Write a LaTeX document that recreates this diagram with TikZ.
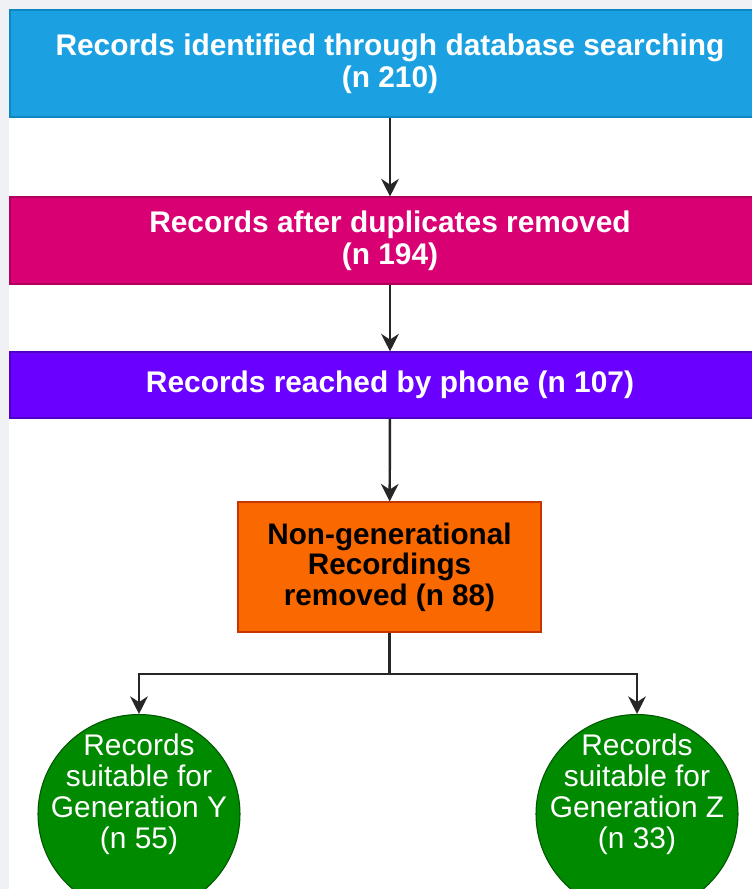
\documentclass[tikz,border=0pt]{standalone}
\usepackage{fontspec}
\setmainfont{Liberation Sans}
\usetikzlibrary{shapes.geometric, arrows.meta, positioning}

\definecolor{bgpanel}{HTML}{EFF1F4}
\definecolor{dbblue}{HTML}{1BA1E2}
\definecolor{dbblueline}{HTML}{0E86C0}
\definecolor{dupmag}{HTML}{D80073}
\definecolor{dupmagline}{HTML}{B0005E}
\definecolor{phviolet}{HTML}{6A00FF}
\definecolor{phvioletline}{HTML}{4E00C8}
\definecolor{ngorange}{HTML}{FA6800}
\definecolor{ngorangeline}{HTML}{C73500}
\definecolor{gengreen}{HTML}{008A00}
\definecolor{gengreenline}{HTML}{005700}

\begin{document}
\begin{tikzpicture}[
    stage/.style={
        rectangle, draw, line width=0.6pt,
        minimum width=15.2cm,
        text=white, align=center,
        font=\fontsize{17}{18.2}\selectfont\bfseries
    },
    removed/.style={
        rectangle, draw=ngorangeline, fill=ngorange, line width=0.6pt,
        minimum width=6.06cm, minimum height=2.6cm,
        text=black, align=center,
        font=\fontsize{16.9}{17.4}\selectfont\bfseries
    },
    result/.style={
        ellipse, draw=gengreenline, fill=gengreen, line width=0.6pt,
        minimum width=4.04cm, minimum height=3.98cm,
        inner xsep=-0.5cm, inner ysep=-0.5cm, text depth=0.9cm,
        text=white, align=center,
        font=\fontsize{17}{17.6}\selectfont
    },
    arrow/.style={-{Stealth[length=10pt, width=10pt]}, line width=1.4pt, black!85},
    link/.style={line width=1.4pt, black!85},
]

% Fondo
\useasboundingbox (0,0) rectangle (15.04,-17.78);
\fill[bgpanel] (0,0) rectangle (15.04,-17.78);
\fill[white] (0.17,-0.2) rectangle (15.04,-17.78);

% Fasi
\node[stage, fill=dbblue, draw=dbblueline, minimum height=2.14cm] (search) at (7.8,-1.27)
    {Records identified through database searching\\(n 210)};
\node[stage, fill=dupmag, draw=dupmagline, minimum height=1.74cm] (dedup) at (7.8,-4.81)
    {Records after duplicates removed\\(n 194)};
\node[stage, fill=phviolet, draw=phvioletline, minimum height=1.32cm] (phone) at (7.8,-7.7)
    {Records reached by phone (n 107)};

\node[removed] (nongen) at (7.79,-11.34)
    {Non-generational\\Recordings\\removed (n 88)};

% Generazioni
\node[result] (geny) at (2.78,-16.28)
    {Records\\suitable for\\Generation Y\\(n 55)};
\node[result] (genz) at (12.74,-16.28)
    {Records\\suitable for\\Generation Z\\(n 33)};

% Frecce
\draw[arrow] (search) -- (dedup);
\draw[arrow] (dedup) -- (phone);
\draw[arrow] (phone) -- (nongen);

\coordinate (split) at (7.79,-13.48);
\draw[link] (nongen) -- (split);
\draw[arrow] (split) -| (geny);
\draw[arrow] (split) -| (genz);

\end{tikzpicture}
\end{document}
